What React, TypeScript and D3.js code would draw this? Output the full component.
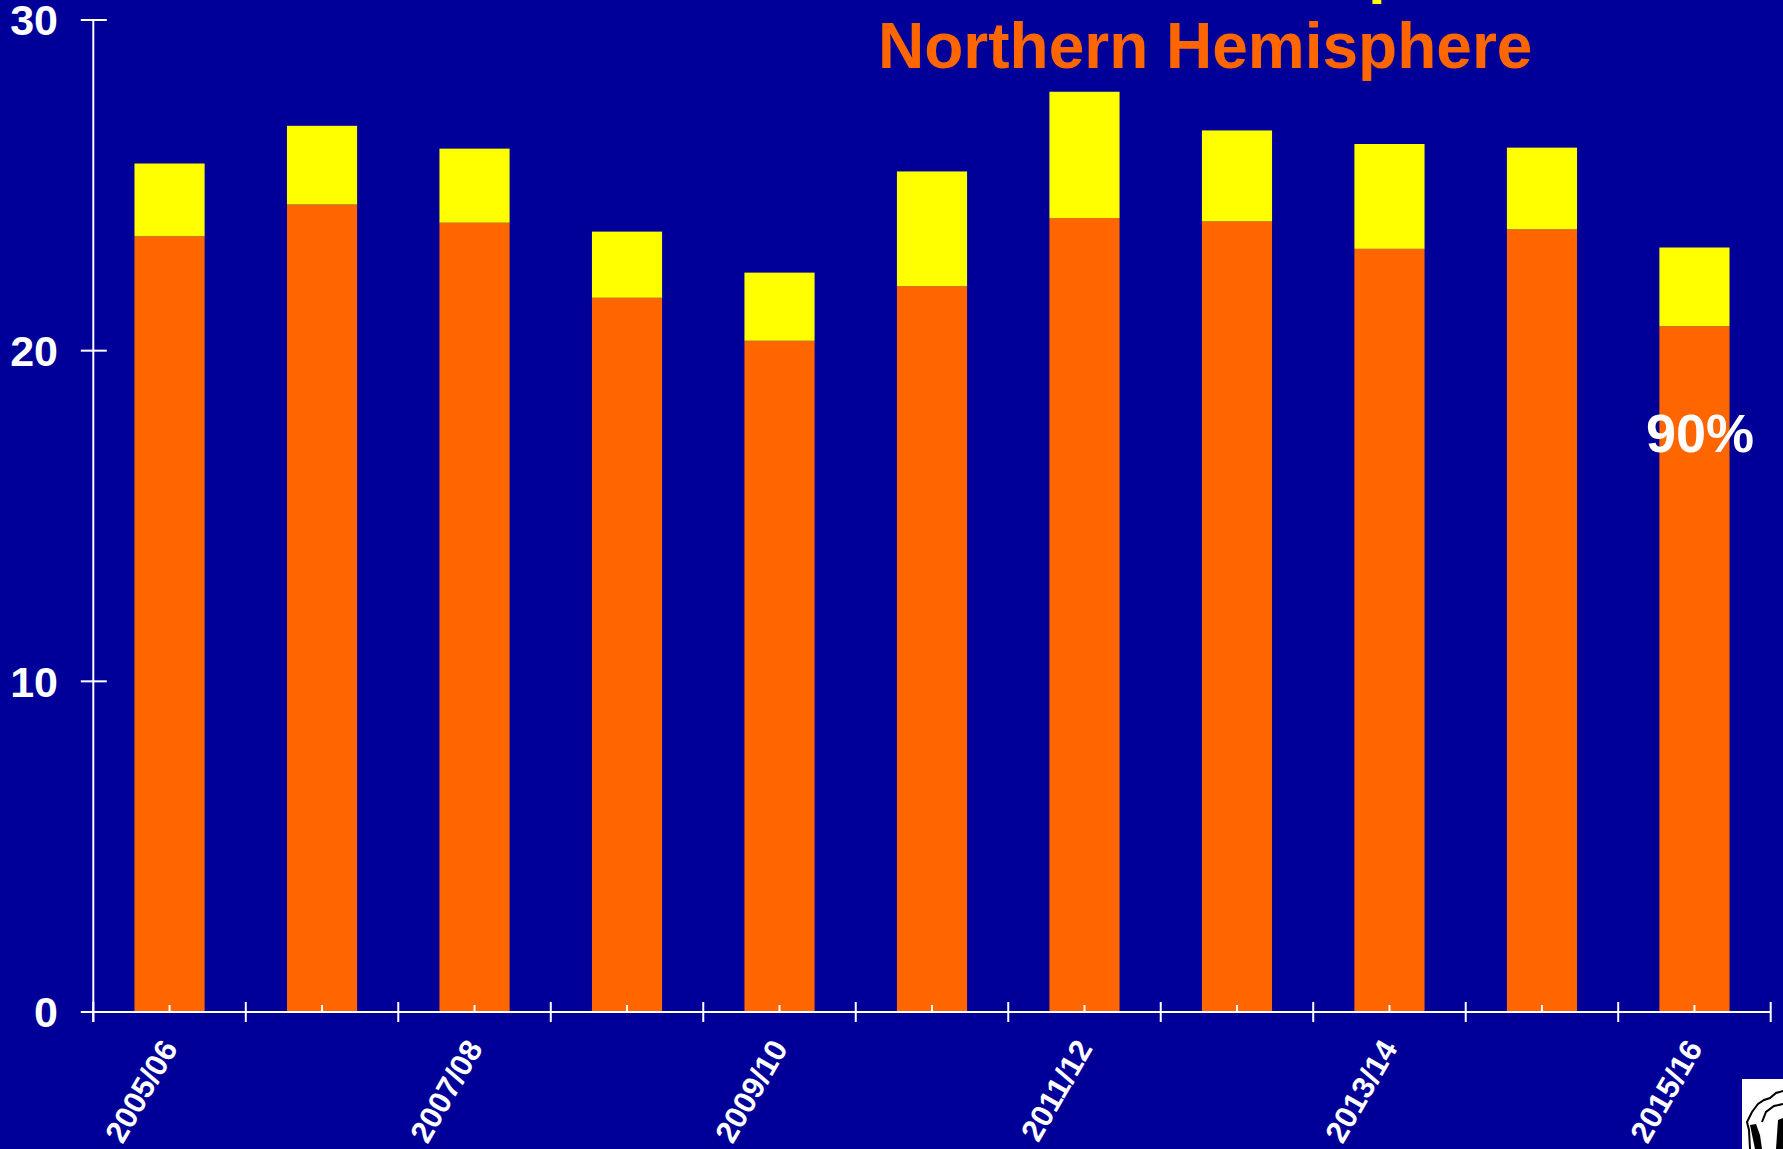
import React from "react";
import * as d3 from "d3";

const W = 1783;
const H = 1149;

const seasons = [
  "2005/06", "2006/07", "2007/08", "2008/09", "2009/10", "2010/11",
  "2011/12", "2012/13", "2013/14", "2014/15", "2015/16",
];
const labelledSeasons = ["2005/06", "2007/08", "2009/10", "2011/12", "2013/14", "2015/16"];
// lower (orange) segment
const mainValues = [23.46, 24.42, 23.87, 21.6, 20.3, 21.95, 24.01, 23.91, 23.08, 23.67, 20.74];
// upper (yellow) segment
const extraValues = [2.2, 2.38, 2.24, 2.0, 2.06, 3.47, 3.82, 2.75, 3.17, 2.47, 2.38];
const yTicks = [0, 10, 20, 30];
const titleText = "Northern Hemisphere";
const annotationText = "90%";

const BG = "#000099";
const ORANGE = "#FF6600";
const YELLOW = "#FFFF00";
const FONT = "'Liberation Sans', Arial, Helvetica, sans-serif";

export default function App() {
  const x0 = 93.3;
  const x1 = 1770.7;
  const yZero = 1012;
  const yTop = 20;

  const x = d3.scaleBand<string>().domain(seasons).range([x0, x1]).paddingInner(0).paddingOuter(0);
  const y = d3.scaleLinear().domain([0, 30]).range([yZero, yTop]);
  const bw = x.bandwidth();
  const barW = bw * 0.46;

  const rows = seasons.map((s, i) => ({ season: s, main: mainValues[i], extra: extraValues[i] }));
  const stack = d3.stack<any>().keys(["main", "extra"]);
  const series = stack(rows);
  const colors = [ORANGE, YELLOW];

  const boundaries = d3.range(seasons.length + 1).map((i) => x0 + i * bw);

  React.useEffect(() => {
    document.body.style.margin = "0";
  }, []);

  return (
    <svg
      width={W}
      height={H}
      style={{ position: "absolute", left: 0, top: 0, display: "block" }}
      fontFamily={FONT}
    >
      <rect x={0} y={0} width={W} height={H} fill={BG} />

      {/* cropped upper title line: only a descender is visible */}
      <text x={1368} y={-9.5} fill={YELLOW} fontSize={64} fontWeight="bold">p</text>

      <text x={878} y={68} fill={ORANGE} fontSize={64} fontWeight="bold">
        {titleText}
      </text>

      {series.map((s, si) => (
        <g key={si} fill={colors[si]}>
          {s.map((d: any, i: number) => {
            const cx = (x(seasons[i]) as number) + bw / 2;
            return (
              <rect
                key={i}
                x={cx - barW / 2}
                y={y(d[1])}
                width={barW}
                height={y(d[0]) - y(d[1])}
              />
            );
          })}
        </g>
      ))}

      {/* y axis */}
      <line x1={x0} y1={yTop} x2={x0} y2={yZero + 10} stroke="#fff" strokeWidth={2} />
      {yTicks.map((t) => (
        <g key={t}>
          <line x1={x0 - 12.5} x2={x0 + 13.5} y1={y(t)} y2={y(t)} stroke="#fff" strokeWidth={2} />
          <text
            x={58}
            y={y(t)}
            dy="0.36em"
            textAnchor="end"
            fill="#fff"
            fontSize={43}
            fontWeight="bold"
          >
            {t}
          </text>
        </g>
      ))}

      {/* x axis */}
      <line x1={81} y1={yZero} x2={x1} y2={yZero} stroke="#fff" strokeWidth={2} />
      {boundaries.map((bx, i) => (
        <line key={"b" + i} x1={bx} x2={bx} y1={yZero - 10} y2={yZero + 10} stroke="#fff" strokeWidth={2} />
      ))}
      {seasons.map((s) => {
        const cx = (x(s) as number) + bw / 2;
        return <line key={"m" + s} x1={cx} x2={cx} y1={yZero - 7} y2={yZero} stroke="#fff" strokeWidth={2} />;
      })}
      {labelledSeasons.map((s) => {
        const cx = (x(s) as number) + bw / 2 + 9;
        const ly = yZero + 36;
        return (
          <text
            key={"l" + s}
            x={cx}
            y={ly}
            transform={`rotate(-60 ${cx} ${ly})`}
            textAnchor="end"
            fill="#fff"
            fontSize={31}
            fontWeight="bold"
          >
            {s}
          </text>
        );
      })}

      <text x={1646} y={452} fill="#fff" fontSize={54} fontWeight="bold">
        {annotationText}
      </text>

      {/* logo fragment in corner */}
      <rect x={1742} y={1079} width={W - 1742} height={H - 1079} fill="#fff" />
      <path
        d="M1750,1149 L1749,1130 L1747,1122 L1752,1112 L1758,1104 L1764,1100 L1770,1098 L1776,1093 L1783,1091"
        fill="none"
        stroke="#000"
        strokeWidth={2}
      />
      <path
        d="M1750,1125 L1756,1124 L1760,1135 L1762,1149 L1755,1149 Z"
        fill="#000"
      />
      <path
        d="M1762,1122 L1766,1112 L1774,1106 L1783,1104"
        fill="none"
        stroke="#000"
        strokeWidth={2}
      />
      <path d="M1778,1120 L1783,1118 L1783,1149 L1776,1149 Z" fill="#000" />
    </svg>
  );
}
